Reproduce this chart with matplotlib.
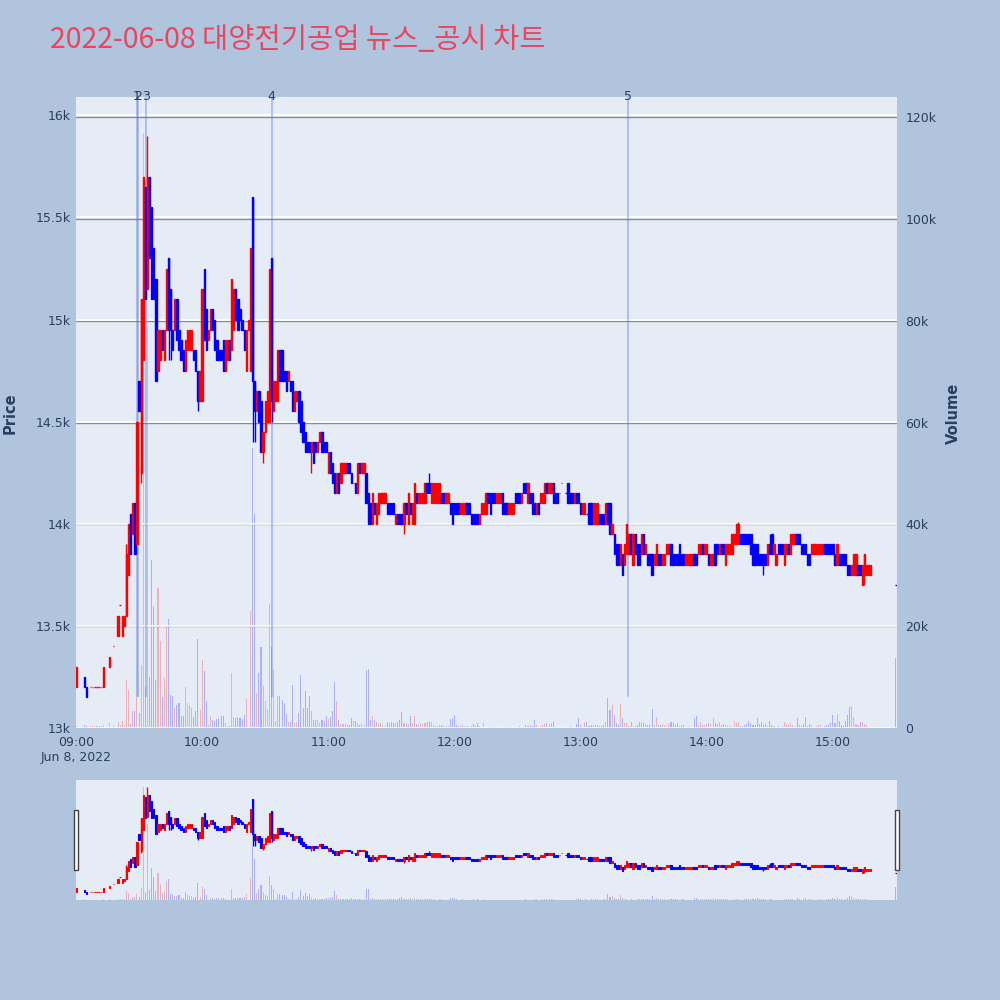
import matplotlib
matplotlib.use("Agg")
import matplotlib.pyplot as plt
from matplotlib.patches import Rectangle
from matplotlib.transforms import blended_transform_factory

# ---------------- data ----------------
title = "2022-06-08 대양전기공업 뉴스_공시 차트"
session_start = "09:00"
date_label = "Jun 8, 2022"

# one candle per minute from 09:00 (None = no trade in that minute)
opens = [
    13200, None, None, None, 13250, 13200, None, 13200, 13200, 13200,
    13200, 13200, 13200, 13200, None, None, 13300, None, 13400, None,
    13450, 13600, 13450, 13500, 13550, 13750, 14050, 13950, 14100, 13900,
    14700, 14250, 14800, 15650, 15150, 15700, 15550, 15350, 15200, 14750,
    14800, 14950, 14800, 14950, 15300, 15150, 14950, 14950, 15100, 14950,
    14900, 14850, 14750, 14850, 14850, 14850, 14850, 14850, 14750, 14600,
    14600, 15250, 15050, 14900, 14950, 15050, 15000, 14900, 14850, 14850,
    14900, 14750, 14800, 14900, 14850, 14950, 15150, 15100, 15050, 15000,
    14950, 14750, 14950, 14750, 15600, 14700, 14550, 14650, 14600, 14350,
    14450, 14500, 14500, 15300, 14550, 14600, 14600, 14850, 14850, 14750,
    14750, 14700, 14700, 14700, 14550, 14600, 14650, 14600, 14500, 14450,
    14400, 14400, 14350, 14400, 14400, 14350, 14400, 14450, 14400, 14400,
    14250, 14350, 14300, 14250, 14150, 14250, 14200, 14250, 14250, 14300,
    14300, 14250, 14200, 14200, 14150, 14300, 14250, 14250, 14250, 14150,
    14100, 14000, 14100, 14000, 14050, 14100, 14100, 14100, 14100, 14100,
    14100, 14100, 14000, 14050, 14050, 14050, 14000, 14100, 14000, 14100,
    14000, 14000, 14150, 14100, 14100, 14100, 14100, 14200, 14200, 14100,
    14100, 14100, 14100, 14100, 14150, 14150, 14100, 14100, 14100, 14100,
    14100, 14100, 14100, 14050, 14050, 14050, 14100, 14100, 14050, 14050,
    14050, 14050, 14000, 14050, 14050, 14050, 14150, 14150, 14150, 14150,
    14100, 14100, 14100, 14150, 14100, 14100, 14050, 14050, 14050, 14150,
    14150, 14150, 14100, 14200, 14200, 14100, 14150, 14150, 14100, 14050,
    14100, 14100, 14100, 14100, 14200, 14150, 14150, 14200, 14150, 14150,
    14150, 14200, None, 14150, 14200, 14150, 14150, 14100, 14150, 14150,
    14100, 14050, 14050, 14050, 14100, 14100, 14000, 14000, 14000, 14050,
    14050, 14050, 14000, 14100, 14100, 13950, 13950, 13900, 13900, 13800,
    13850, 13800, 13850, 13850, 13950, 13800, 13950, 13900, 13900, 13850,
    13950, 13850, 13850, 13850, 13850, 13800, 13800, 13850, 13850, 13800,
    13800, 13850, 13850, 13900, 13850, 13850, 13850, 13900, 13850, 13850,
    13800, 13800, 13800, 13800, 13850, 13850, 13850, 13850, 13900, 13850,
    13850, 13850, 13800, 13800, 13900, 13900, 13850, 13900, 13900, 13800,
    13850, 13850, 13850, 13900, 13900, 13900, 13950, 13950, 13950, 13950,
    13950, 13950, 13900, 13900, 13900, 13850, 13850, 13850, 13850, 13800,
    13900, 13950, 13850, 13800, 13900, 13900, 13900, 13800, 13850, 13900,
    13850, 13900, 13900, 13950, 13950, 13900, 13900, 13900, 13850, 13850,
    13850, 13850, 13850, 13850, 13850, 13850, 13900, 13900, 13900, 13900,
    13900, 13850, 13800, 13850, 13850, 13850, 13850, 13800, 13800, 13750,
    13750, 13750, 13800, 13800, 13700, 13750, 13750, 13750, 13750,
]

closes = [
    13300, None, None, None, 13200, 13150, None, 13200, 13200, 13200,
    13200, 13200, 13200, 13300, None, None, 13350, None, 13400, None,
    13550, 13600, 13550, 13550, 13850, 14000, 13850, 14100, 13850, 14500,
    14550, 15100, 15700, 15100, 15700, 15300, 15100, 15100, 14700, 14950,
    14950, 14850, 14950, 15250, 14950, 14950, 14850, 15100, 14900, 14850,
    14800, 14750, 14900, 14950, 14950, 14950, 14800, 14750, 14600, 14750,
    15150, 14900, 14850, 14950, 15050, 14950, 14850, 14800, 14800, 14800,
    14750, 14900, 14900, 14800, 15200, 15150, 15000, 14950, 15000, 14950,
    14850, 14950, 15000, 15350, 14700, 14550, 14650, 14500, 14350, 14450,
    14600, 14650, 15250, 14600, 14700, 14700, 14850, 14700, 14700, 14700,
    14650, 14750, 14650, 14550, 14650, 14650, 14500, 14450, 14400, 14350,
    14350, 14350, 14400, 14300, 14350, 14400, 14450, 14350, 14350, 14350,
    14350, 14250, 14200, 14150, 14250, 14150, 14300, 14300, 14300, 14250,
    14250, 14200, 14200, 14150, 14300, 14250, 14300, 14300, 14100, 14000,
    14000, 14150, 14050, 14100, 14150, 14150, 14150, 14150, 14050, 14050,
    14050, 14050, 14050, 14000, 14000, 14000, 14100, 14050, 14150, 14050,
    14100, 14200, 14100, 14150, 14150, 14150, 14200, 14150, 14150, 14200,
    14200, 14200, 14200, 14200, 14100, 14100, 14150, 14150, 14050, 14000,
    14050, 14050, 14050, 14100, 14100, 14100, 14050, 14050, 14000, 14000,
    14000, 14000, 14050, 14100, 14100, 14150, 14100, 14050, 14100, 14100,
    14150, 14150, 14150, 14050, 14050, 14050, 14100, 14100, 14100, 14100,
    14100, 14100, 14150, 14150, 14150, 14200, 14100, 14050, 14050, 14100,
    14050, 14150, 14150, 14200, 14150, 14200, 14200, 14100, 14100, 14100,
    14150, 14200, None, 14150, 14100, 14100, 14100, 14150, 14100, 14100,
    14050, 14100, 14100, 14050, 14000, 14000, 14100, 14100, 14100, 14000,
    14000, 14000, 14100, 14000, 13950, 14000, 13850, 13800, 13800, 13900,
    13750, 13900, 14000, 13950, 13850, 13950, 13850, 13800, 13800, 13950,
    13850, 13900, 13800, 13800, 13750, 13850, 13900, 13800, 13800, 13850,
    13850, 13900, 13900, 13800, 13800, 13800, 13800, 13800, 13800, 13800,
    13850, 13850, 13850, 13850, 13800, 13800, 13900, 13900, 13850, 13900,
    13900, 13800, 13850, 13850, 13800, 13850, 13900, 13850, 13850, 13900,
    13900, 13900, 13950, 13950, 14000, 14000, 13900, 13900, 13900, 13900,
    13900, 13850, 13800, 13800, 13800, 13800, 13800, 13800, 13800, 13900,
    13850, 13850, 13900, 13850, 13850, 13850, 13850, 13900, 13900, 13850,
    13950, 13950, 13950, 13900, 13900, 13850, 13850, 13850, 13800, 13800,
    13900, 13900, 13900, 13900, 13900, 13900, 13850, 13850, 13850, 13850,
    13850, 13800, 13900, 13800, 13800, 13800, 13800, 13750, 13750, 13800,
    13850, 13850, 13750, 13750, 13800, 13850, 13800, 13800, 13800,
]

# wicks that reach beyond the candle body (minute index -> price)
high_wicks = {24: 13900, 34: 15900, 168: 14250, 315: 14010, 330: 13950}
low_wicks = {31: 14200, 44: 14800, 45: 14800, 58: 14550, 84: 14400, 85: 14400,
             89: 14300, 93: 14500, 112: 14250, 156: 13950, 327: 13750, 375: 13700}

volumes = [
    400, 0, 0, 0, 600, 300, 0, 300, 300, 300,
    300, 300, 300, 600, 0, 0, 1000, 0, 300, 0,
    1200, 600, 1400, 600, 9400, 7500, 800, 3400, 3400, 6000,
    3000, 12400, 117000, 8000, 79000, 10000, 33000, 24000, 9400, 27600,
    17000, 6000, 9800, 19800, 21400, 6500, 6300, 4000, 4500, 5000,
    2400, 2400, 8000, 5000, 4500, 4000, 2200, 3400, 17500, 3500,
    13400, 11200, 5400, 500, 2300, 1600, 1400, 1800, 2000, 2400,
    2400, 1000, 300, 300, 10900, 2200, 2000, 2200, 1900, 1800,
    2600, 5700, 200, 23000, 55000, 42000, 6800, 10900, 16000, 8200,
    5400, 3700, 24400, 16000, 11600, 1400, 6300, 6300, 5600, 5000,
    2800, 1200, 1200, 8400, 1000, 1200, 3000, 10400, 4000, 7300,
    4000, 6200, 3300, 1500, 1600, 1500, 900, 1500, 1400, 2300,
    1800, 2200, 3400, 9000, 5300, 1500, 800, 800, 800, 600,
    600, 1900, 1400, 1400, 1000, 600, 800, 600, 11300, 11600,
    1500, 2400, 1500, 1200, 1000, 900, 600, 600, 1200, 900,
    1200, 900, 1000, 1200, 1600, 3200, 900, 800, 800, 2400,
    1000, 2300, 800, 600, 1000, 800, 900, 1200, 1200, 1200,
    600, 400, 300, 600, 600, 400, 400, 300, 1800, 2000,
    2500, 600, 400, 300, 600, 400, 400, 200, 300, 800,
    300, 1000, 300, 200, 1000, 200, 100, 200, 100, 200,
    200, 100, 100, 100, 100, 100, 100, 200, 100, 100,
    200, 300, 200, 200, 600, 300, 500, 300, 1500, 600,
    200, 300, 600, 800, 1000, 800, 1000, 1200, 200, 200,
    200, 200, 0, 100, 200, 300, 200, 200, 800, 1900,
    600, 200, 1100, 1200, 300, 600, 600, 600, 600, 300,
    400, 600, 1200, 5800, 3500, 4500, 2500, 1000, 600, 4700,
    1900, 1000, 1000, 400, 1200, 400, 400, 600, 1200, 1200,
    1000, 800, 600, 600, 3700, 600, 2200, 600, 600, 800,
    600, 400, 800, 1200, 900, 600, 900, 300, 600, 600,
    200, 200, 400, 200, 2000, 2400, 600, 1200, 600, 600,
    800, 900, 800, 1900, 900, 800, 1200, 600, 800, 600,
    600, 300, 300, 1400, 900, 1200, 300, 300, 600, 800,
    1400, 1000, 600, 600, 2000, 800, 1200, 600, 800, 300,
    1400, 600, 300, 100, 300, 200, 300, 1200, 800, 600,
    1000, 600, 400, 1900, 600, 300, 800, 2200, 400, 800,
    600, 100, 300, 600, 600, 100, 300, 600, 600, 1000,
    2500, 1000, 2800, 1400, 600, 300, 1400, 2500, 4200, 4300,
    2100, 800, 600, 1200, 1200, 800, 600, 200, 200,
]

# closing auction
auction_time = "15:30"
auction_price = 13700
auction_volume = 13700

news_labels = ["1", "2", "3", "4", "5"]
news_times = ["09:29:00", "09:29:40", "09:33:10", "10:33:00", "13:22:30"]

hour_ticks = ["09:00", "10:00", "11:00", "12:00", "13:00", "14:00", "15:00"]
price_ticks = [13000, 13500, 14000, 14500, 15000, 15500, 16000]
price_tick_labels = ["13k", "13.5k", "14k", "14.5k", "15k", "15.5k", "16k"]
volume_ticks = [0, 20000, 40000, 60000, 80000, 100000, 120000]
volume_tick_labels = ["0", "20k", "40k", "60k", "80k", "100k", "120k"]

# ---------------- helpers ----------------
def to_minutes(t):
    parts = [int(p) for p in t.split(":")]
    while len(parts) < 3:
        parts.append(0)
    sh, sm = [int(p) for p in session_start.split(":")]
    return (parts[0] - sh) * 60 + (parts[1] - sm) + parts[2] / 60.0

BG = "#B0C4DE"
PLOT_BG = "#E5ECF6"
UP = "#FF0000"
DOWN = "#0000FF"
TXT = "#2a3f5f"
UP_V = (1.0, 0.0, 0.0, 0.25)
DOWN_V = (0.0, 0.0, 1.0, 0.25)

xs, bottoms, heights, cols, wx, wlo, whi, wcol = [], [], [], [], [], [], [], []
vx, vv, vcols = [], [], []
prev = None
for i, (op, cl, vol) in enumerate(zip(opens, closes, volumes)):
    if op is None or cl is None:
        continue
    if cl > op:
        up = True
    elif cl < op:
        up = False
    else:
        up = not (prev is not None and cl < prev)
    colr = UP if up else DOWN
    xs.append(i)
    bottoms.append(min(op, cl))
    heights.append(abs(cl - op))
    cols.append(colr)
    hi = max(op, cl, high_wicks.get(i, 0))
    lo = min(op, cl, low_wicks.get(i, 10 ** 9))
    if hi > max(op, cl) or lo < min(op, cl):
        wx.append(i); wlo.append(lo); whi.append(hi); wcol.append(colr)
    if vol > 0:
        vx.append(i); vv.append(vol); vcols.append(UP_V if up else DOWN_V)
    prev = cl

ax_m = to_minutes(auction_time)
a_up = prev is not None and auction_price > prev
xs.append(ax_m); bottoms.append(auction_price); heights.append(0)
cols.append(UP if a_up else DOWN)
vx.append(ax_m); vv.append(auction_volume); vcols.append(UP_V if a_up else DOWN_V)

XMIN, XMAX = 0.0, 390.5
PMIN, PMAX = 13000, 16090
VMAX = 124000


def draw(axp, axv, body_w=0.62, lw=1.0, vol_w=0.5):
    axv.bar(vx, vv, width=vol_w, color=vcols, linewidth=0, zorder=2)
    axp.vlines(wx, wlo, whi, colors=wcol, linewidth=1.0, zorder=3)
    axp.bar(xs, heights, bottom=bottoms, width=body_w, color=cols,
            edgecolor=cols, linewidth=lw, zorder=4)
    axp.set_xlim(XMIN, XMAX)
    axp.set_ylim(PMIN, PMAX)
    axv.set_ylim(0, VMAX)
    axp.set_zorder(axv.get_zorder() + 1)
    axp.patch.set_visible(False)
    axv.patch.set_visible(True)
    axv.set_facecolor(PLOT_BG)
    for a in (axp, axv):
        for s in a.spines.values():
            s.set_visible(False)


plt.rcParams["font.family"] = ["DejaVu Sans"]
fig = plt.figure(figsize=(10, 10), dpi=100, facecolor=BG)

# ---- main chart ----
ax = fig.add_axes([0.076, 0.272, 0.821, 0.631])
axv = ax.twinx()
draw(ax, axv)

axv.set_yticks(volume_ticks)
axv.set_yticklabels(volume_tick_labels)
axv.tick_params(axis="y", length=0, pad=6, labelsize=9, labelcolor=TXT)
axv.yaxis.grid(True, color="#8c8c8c", linewidth=1.0)
axv.set_axisbelow(True)

ax.set_yticks(price_ticks)
ax.set_yticklabels(price_tick_labels)
ax.tick_params(axis="y", length=0, pad=4, labelsize=9, labelcolor=TXT)
ax.yaxis.grid(True, color="white", linewidth=1.2)
ax.set_axisbelow(True)

xt = [to_minutes(t) for t in hour_ticks]
xl = list(hour_ticks)
xl[0] = hour_ticks[0] + "\n" + date_label
ax.set_xticks(xt)
ax.set_xticklabels(xl)
ax.tick_params(axis="x", length=0, pad=6, labelsize=9, labelcolor=TXT)
axv.tick_params(axis="x", length=0)

trans = blended_transform_factory(ax.transData, ax.transAxes)
for lab, t in zip(news_labels, news_times):
    xm = to_minutes(t)
    ax.axvline(xm, ymin=0.05, ymax=1.0, color=(0.35, 0.45, 0.9, 0.45),
               linewidth=1.2, zorder=2)
    ax.text(xm, 1.0, lab, transform=trans, ha="center", va="center",
            fontsize=9, color=TXT, zorder=6, clip_on=False)

# ---- range slider ----
axs = fig.add_axes([0.076, 0.100, 0.821, 0.120])
axsv = axs.twinx()
draw(axs, axsv, body_w=0.62, lw=0.8, vol_w=0.5)
for a in (axs, axsv):
    a.set_xticks([])
    a.set_yticks([])

for hx in (0.0735, 0.895):
    fig.add_artist(Rectangle((hx, 0.130), 0.0042, 0.060, transform=fig.transFigure,
                             facecolor="white", edgecolor="#444444", linewidth=1.0))

# ---- texts ----
fig.text(0.050, 0.960, title, fontsize=20.5, color="#E8475F", ha="left", va="center",
         family=["Noto Sans CJK KR", "DejaVu Sans"])
fig.text(0.010, 0.587, "Price", rotation=90, ha="center", va="center",
         fontsize=10.5, fontweight="bold", color=TXT)
fig.text(0.953, 0.587, "Volume", rotation=90, ha="center", va="center",
         fontsize=10.5, fontweight="bold", color=TXT)

fig.savefig("out.png", dpi=100, facecolor=BG)
